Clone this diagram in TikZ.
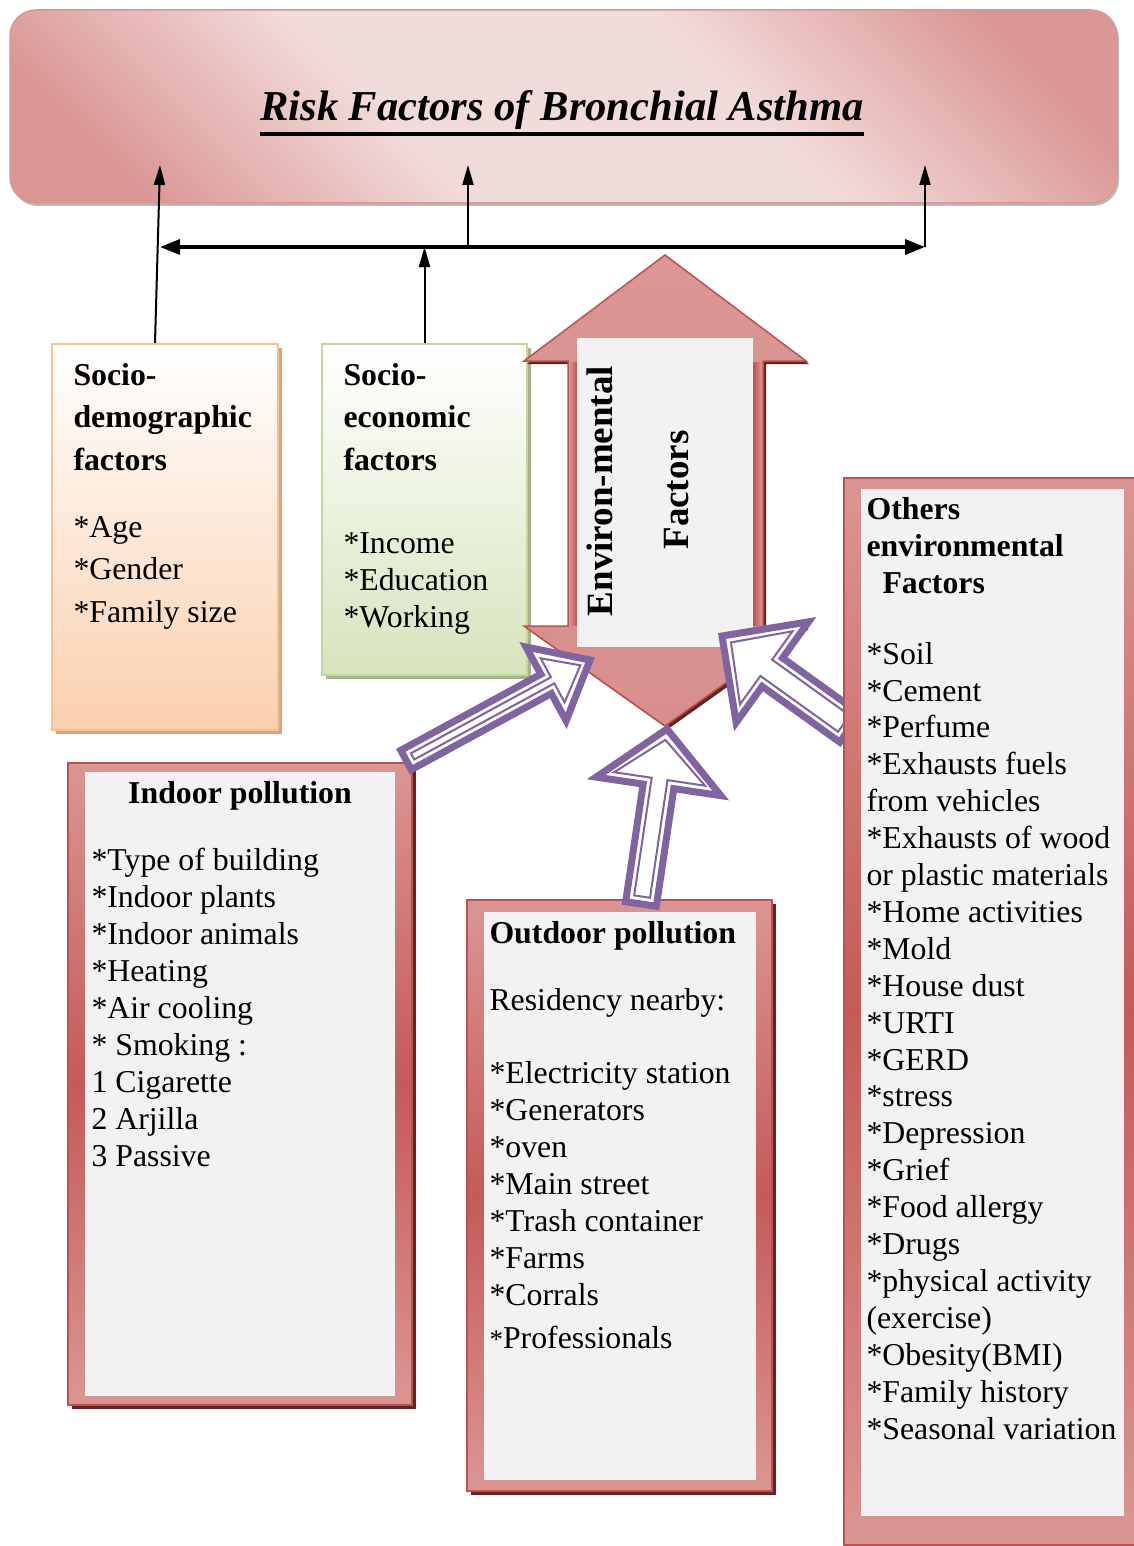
\documentclass[tikz,border=0pt]{standalone}
\usepackage{fontspec}
\setmainfont{Liberation Serif}
\usepackage{tikz}
\usetikzlibrary{positioning,calc,shadows,arrows.meta}
\definecolor{titledark}{HTML}{DA9694}
\definecolor{titlelight}{HTML}{F2DCDB}
\definecolor{peach}{HTML}{FAD0AE}
\definecolor{peachline}{HTML}{FAC090}
\definecolor{peachshadow}{HTML}{D9A77F}
\definecolor{leaf}{HTML}{D7E4BD}
\definecolor{leafline}{HTML}{C3D69B}
\definecolor{leafshadow}{HTML}{A6B48C}
\definecolor{framelight}{HTML}{DA9694}
\definecolor{framedark}{HTML}{C0504D}
\definecolor{frameshadow}{HTML}{632523}
\definecolor{innergrey}{HTML}{F2F2F2}
\definecolor{purp}{HTML}{8064A2}
\pgfdeclareverticalshading{titleshade}{100bp}{color(0bp)=(titledark); color(22bp)=(titledark); color(40bp)=(titlelight); color(60bp)=(titlelight); color(78bp)=(titledark); color(100bp)=(titledark)}
\newcommand{\thickul}[1]{\vtop{\hbox{#1}\kern2pt\hrule height 4pt}}
\tikzset{every picture/.style={line width=1pt}}
\tikzset{
  titlebox/.style ={rectangle, rounded corners=26pt, draw=titledark, line width=1.5pt, shade, shading=titleshade, shading angle=-45,
                    drop shadow={shadow xshift=2pt, shadow yshift=-3pt, fill=gray!55, opacity=1}},
  sdbox/.style    ={rectangle, draw=peachline, line width=2pt, top color=white, bottom color=peach,
                    drop shadow={shadow xshift=4pt, shadow yshift=-4pt, fill=peachshadow, opacity=1}},
  sebox/.style    ={rectangle, draw=leafline, line width=2pt, top color=white, bottom color=leaf,
                    drop shadow={shadow xshift=4pt, shadow yshift=-4pt, fill=leafshadow, opacity=1}},
  framebox/.style ={rectangle, draw=framedark, line width=1.5pt, top color=framelight, bottom color=framelight, middle color=framedark!85!framelight,
                    drop shadow={shadow xshift=4pt, shadow yshift=-4pt, fill=frameshadow, opacity=1}},
  envarrow/.style ={draw=framedark, line width=1.5pt, top color=framelight, bottom color=framelight!90!framedark,
                    drop shadow={shadow xshift=3pt, shadow yshift=-3pt, fill=frameshadow, opacity=1}},
  hollowout/.style={draw=purp, line width=7pt, fill=white, line join=miter},
  hollowin/.style ={draw=purp, line width=2pt, line join=miter},
  link/.style     ={->, >={Triangle[length=20pt,width=11pt]}, line width=2pt},
  barlink/.style  ={<->, >={Triangle[length=20pt,width=15pt]}, line width=3.5pt},
  titletext/.style={anchor=base, inner sep=0pt, font=\bfseries\itshape\fontsize{42.6}{50}\selectfont},
  widehead/.style ={anchor=base west, align=left, inner sep=0pt, font=\bfseries\fontsize{31.8}{42.5}\selectfont},
  widelist/.style ={anchor=base west, align=left, inner sep=0pt, font=\fontsize{31.8}{42.5}\selectfont},
  boxhead/.style  ={anchor=base west, align=left, inner sep=0pt, font=\bfseries\fontsize{31.8}{36.9}\selectfont},
  boxlist/.style  ={anchor=base west, align=left, inner sep=0pt, font=\fontsize{31.8}{36.9}\selectfont},
  envtext/.style  ={inner sep=0pt, rotate=90, font=\bfseries\fontsize{37}{44}\selectfont},
}
% block arrow: tail, tip, half shaft, half head, head length
\newcommand{\hollowarrow}[5]{%
  \pgfmathsetmacro{\arrwi}{#3-7.5}%
  \pgfmathsetmacro{\arrhi}{#4-17}%
  \coordinate (hab) at ($(#2)!#5pt!(#1)$);
  \coordinate (tin) at ($(#1)!7.5pt!(#2)$);
  \coordinate (hin) at ($(#2)!11pt!(#1)$);
  \coordinate (bin) at ($(hab)!7.5pt!(#2)$);
  \draw[hollowout] ($(#1)!#3pt!90:(#2)$) -- ($(hab)!#3pt!90:(#2)$) -- ($(hab)!#4pt!90:(#2)$) -- (#2)
    -- ($(hab)!#4pt!-90:(#2)$) -- ($(hab)!#3pt!-90:(#2)$) -- ($(#1)!#3pt!-90:(#2)$) -- cycle;
  \draw[hollowin] ($(tin)!\arrwi pt!90:(hin)$) -- ($(bin)!\arrwi pt!90:(hin)$) -- ($(bin)!\arrhi pt!90:(hin)$) -- (hin)
    -- ($(bin)!\arrhi pt!-90:(hin)$) -- ($(bin)!\arrwi pt!-90:(hin)$) -- ($(tin)!\arrwi pt!-90:(hin)$) -- cycle;
}

\begin{document}
\begin{tikzpicture}[x=1pt, y=-1pt]
        \useasboundingbox (0,0) rectangle (1134,1546);
        \clip (0,0) rectangle (1134,1546);
        % title
        \node[titlebox, minimum width=1107pt, minimum height=193pt] (title) at (563.5,106.5) {};
        \node[titletext] (titlelbl) at (562,121) {\thickul{Risk Factors of Bronchial Asthma}};
        % socio boxes (multi-line texts sit on their last baseline)
        \node[sdbox, minimum width=226pt, minimum height=386pt] (sdem) at (165,537) {};
        \node[widehead] (sdemhead) at (73,470) {Socio-\\demographic\\factors};
        \node[widelist] (sdemlist) at (73,622) {*Age\\*Gender\\*Family size};
        \node[sebox, minimum width=205pt, minimum height=331pt] (secon) at (424.5,509.5) {};
        \node[widehead] (seconhead) at (343,470) {Socio-\\economic\\factors};
        \node[boxlist] (seconlist) at (343,627) {*Income\\*Education\\*Working};
        % links to the title
        \coordinate (barL) at (160,247);
        \coordinate (barM) at (468,247);
        \coordinate (barR) at (925,247);
        \coordinate (in1) at (160,165);
        \coordinate (in2) at (468,165);
        \coordinate (in3) at (925,165);
        \draw[barlink] (barL) -- (barR);
        \draw[link] ([xshift=-10pt]sdem.north) -- (in1);
        \draw[link] (barM) -- (in2);
        \draw[link] (barR) -- (in3);
        \draw[link] (secon.north) -- (secon.north |- barL);
        % environmental arrow
        \draw[envarrow] (665,255) -- (806,361) -- (763,361) -- (763,626) -- (806,626) -- (665,726)
          -- (524,626) -- (568,626) -- (568,361) -- (524,361) -- cycle;
        \fill[left color=framelight, right color=framedark] (569,362) rectangle (577,625);
        \fill[left color=framedark, right color=framelight] (753,362) rectangle (762,625);
        \node[fill=innergrey, minimum width=176pt, minimum height=309pt, inner sep=0pt] (envbox) at (665,492.5) {};
        \node[envtext] (envA) at (600,491) {Environ-mental};
        \node[envtext] (envB) at (677,490) {Factors};
        % indoor pollution
        \node[framebox, minimum width=344pt, minimum height=642pt] (indoor) at (240,1084) {};
        \fill[innergrey] ([shift={(18,10)}]indoor.north west) rectangle ([shift={(-18,-10)}]indoor.south east);
        \node[boxhead, anchor=base] (indoorhead) at (240,803) {Indoor pollution};
        \node[boxlist] (indoorlist) at (91,1166) {*Type of building\\*Indoor plants\\*Indoor animals\\*Heating\\*Air cooling\\* Smoking :\\1 Cigarette\\2 Arjilla\\3 Passive};
        % outdoor pollution
        \node[framebox, minimum width=305pt, minimum height=591pt] (outdoor) at (619.5,1195.5) {};
        \fill[innergrey] ([shift={(18,13)}]outdoor.north west) rectangle ([shift={(-17,-12)}]outdoor.south east);
        \node[boxhead] (outdoorhead) at (489,943) {Outdoor pollution};
        \node[boxlist] (outdoornear) at (489,1010) {Residency nearby:};
        \node[boxlist] (outdoorlist) at (489,1305) {*Electricity station\\*Generators\\*oven\\*Main street\\*Trash container\\*Farms\\*Corrals};
        \node[boxlist] (outdoorlast) at (489,1348) {{\fontsize{27}{30}\selectfont*}Professionals};
        % hollow arrows into the environmental arrow
        \coordinate (aTail) at (406,760);
        \coordinate (aTip) at (590,660);
        \coordinate (bTail) at (641,904);
        \coordinate (bTip) at (667,729);
        \coordinate (cTail) at (850,728);
        \coordinate (cTip) at (722,636);
        \hollowarrow{aTail}{aTip}{11}{42}{50}
        \hollowarrow{bTail}{bTip}{15.5}{63}{58}
        \hollowarrow{cTail}{cTip}{17.5}{62}{62}
        % others environmental factors
        \node[framebox, minimum width=298pt, minimum height=1067pt] (others) at (993,1011.5) {};
        \fill[innergrey] ([shift={(18,12)}]others.north west) rectangle ([shift={(-19,-30)}]others.south east);
        \node[boxhead] (othershead) at (866,593) {Others\\environmental\\\hspace*{16pt}Factors};
        \node[boxlist] (otherslist) at (866,1439) {*Soil\\*Cement\\*Perfume\\*Exhausts fuels\\from vehicles\\*Exhausts of wood\\or plastic materials\\*Home activities\\*Mold\\*House dust\\*URTI\\*GERD\\*stress\\*Depression\\*Grief\\*Food allergy\\*Drugs\\*physical activity\\(exercise)\\*Obesity(BMI)\\*Family history\\*Seasonal variation};
\end{tikzpicture}
\end{document}
